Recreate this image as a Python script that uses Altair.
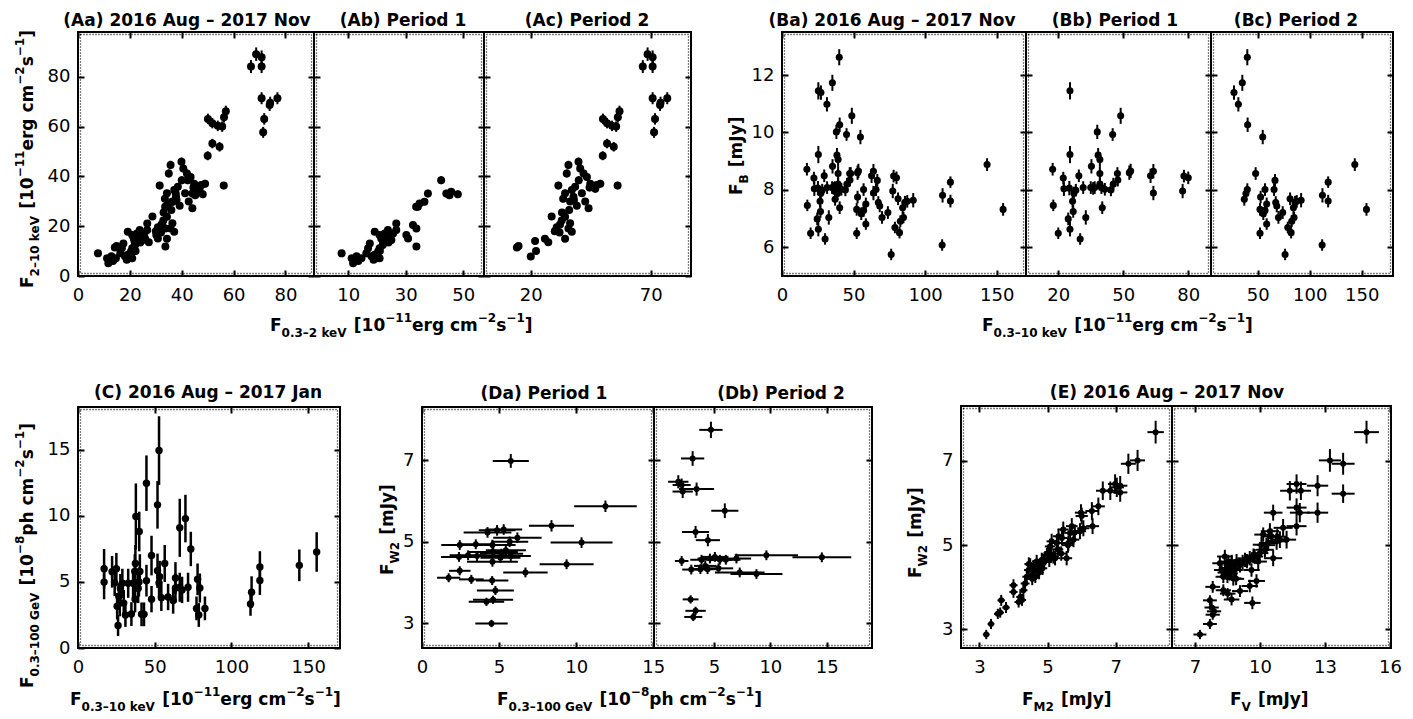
import altair as alt
import pandas as pd

W, H = 1413, 719
TK = 6

# ---------------- data ----------------
# (A) Period 1 : F0.3-2 keV vs F2-10 keV
A1_x = [7.7, 11.2, 11.7, 12.9, 14.6, 16.3, 16.9, 17.5, 18.1, 19.2,
        19.8, 20.4, 20.9, 20.9, 19.2, 20.9, 21.5, 22.1, 22.7, 23.3,
        23.8, 24.4, 25.0, 25.6, 26.7, 26.7, 30.2, 30.8, 32.5, 33.7,
        33.7, 34.2, 34.8, 36.5, 37.7, 42.3, 44.1, 45.8, 48.1, 45.2,
        33.6, 22.0, 24.0, 21.0, 13.5, 18.8]
A1_y = [9.1, 7.1, 5.1, 7.9, 7.1, 9.1, 11.1, 13.1, 7.9, 8.5,
        7.1, 9.8, 7.1, 11.1, 17.8, 16.5, 15.1, 13.1, 17.1, 14.5,
        18.5, 15.8, 14.5, 17.1, 18.5, 21.1, 16.5, 15.1, 20.5, 11.8,
        19.1, 27.8, 29.1, 29.8, 33.1, 38.5, 33.1, 33.8, 32.8, 32.4,
        27.8, 12.5, 13.5, 10.0, 6.0, 6.5]
A1_ey = [0.9, 0.8, 0.8, 0.9, 0.8, 0.9, 1.0, 1.0, 0.9, 0.9,
         0.8, 1.0, 0.9, 1.0, 1.1, 1.1, 1.0, 1.0, 1.1, 1.0,
         1.1, 1.1, 1.0, 1.1, 1.1, 1.2, 1.1, 1.0, 1.2, 1.0,
         1.2, 1.4, 1.4, 1.4, 1.5, 1.6, 1.5, 1.5, 1.5, 1.5,
         1.4, 1.0, 1.0, 0.9, 0.8, 0.8]
# (A) Period 2
A2_x = [14.2, 14.9, 20.0, 22.2, 21.8, 25.9, 27.3, 28.7, 30.8, 32.2,
        32.9, 34.3, 34.3, 35.7, 36.4, 37.1, 31.5, 34.3, 35.0, 35.7,
        36.4, 37.1, 37.8, 38.5, 39.2, 39.9, 40.6, 41.3, 42.0, 42.7,
        43.4, 44.1, 44.8, 46.9, 49.0, 50.0, 51.8, 54.6, 56.2, 50.1,
        51.8, 53.9, 55.6, 56.3, 57.0, 66.7, 68.7, 70.8, 70.8, 70.8,
        73.9, 74.1, 76.9, 71.8, 71.4, 33.5, 36.0, 38.0, 40.0, 33.0,
        30.0, 32.0, 44.5, 47.5]
A2_y = [11.4, 12.0, 7.8, 10.0, 14.1, 15.0, 13.6, 23.9, 19.6, 20.7,
        22.3, 15.0, 23.8, 19.1, 21.2, 17.8, 36.3, 33.2, 41.2, 44.6,
        29.9, 34.5, 31.8, 35.8, 28.2, 45.9, 43.2, 33.2, 41.2, 29.9,
        39.8, 27.2, 37.1, 35.0, 37.1, 48.3, 53.2, 51.9, 36.3, 63.1,
        61.4, 60.3, 60.0, 63.8, 66.2, 84.1, 89.1, 87.9, 84.1, 71.4,
        68.7, 69.6, 71.4, 63.1, 57.7, 31.0, 26.5, 30.5, 38.5, 25.5,
        18.0, 17.5, 35.5, 36.5]
A2_ey = [0.9, 0.9, 0.8, 0.9, 1.0, 1.0, 1.0, 1.2, 1.1, 1.1,
         1.2, 1.0, 1.2, 1.1, 1.2, 1.1, 1.5, 1.4, 1.6, 1.7,
         1.4, 1.5, 1.4, 1.5, 1.3, 1.7, 1.6, 1.4, 1.6, 1.4,
         1.6, 1.3, 1.5, 1.5, 1.5, 1.8, 1.9, 1.9, 1.5, 2.1,
         2.1, 2.1, 2.1, 2.2, 2.2, 2.6, 2.7, 2.7, 2.6, 2.4,
         2.4, 2.4, 2.4, 2.3, 2.2, 1.4, 1.3, 1.4, 1.6, 1.3,
         1.1, 1.1, 1.5, 1.5]

# (B) Period 1 : F0.3-10 keV vs F_B
B1_x = [17.4, 17.7, 20.0, 22.3, 22.6, 24.6, 25.1, 25.4, 25.4, 25.4,
        26.6, 27.2, 26.9, 28.1, 29.5, 30.1, 31.5, 32.7, 35.3, 35.0,
        36.1, 36.8, 38.0, 38.4, 39.2, 39.2, 39.2, 39.9, 40.3, 41.5,
        44.3, 45.1, 45.4, 47.3, 47.5, 48.8, 52.8, 53.4, 62.6, 63.9,
        63.9, 77.4, 78.0, 80.0]
B1_y = [8.72, 7.46, 6.49, 8.41, 8.04, 6.99, 8.06, 11.45, 9.23, 6.63,
        7.60, 7.89, 7.25, 7.99, 8.49, 6.29, 8.08, 7.04, 8.82, 8.08,
        8.05, 8.08, 10.02, 9.21, 9.06, 8.57, 8.20, 8.08, 7.38, 8.02,
        8.00, 9.93, 8.20, 8.57, 8.34, 10.58, 8.60, 8.66, 8.49, 8.65,
        7.89, 7.96, 8.48, 8.42]
B1_ey = [0.22, 0.20, 0.20, 0.22, 0.25, 0.22, 0.25, 0.30, 0.30, 0.25,
         0.22, 0.22, 0.22, 0.22, 0.22, 0.20, 0.22, 0.25, 0.25, 0.22,
         0.22, 0.22, 0.25, 0.25, 0.25, 0.25, 0.22, 0.22, 0.22, 0.22,
         0.22, 0.22, 0.22, 0.22, 0.22, 0.28, 0.25, 0.25, 0.25, 0.25,
         0.25, 0.25, 0.22, 0.22]
# (B) Period 2
B2_x = [40.0, 35.2, 27.2, 31.4, 40.3, 54.8, 48.0, 37.1, 38.7, 40.0,
        52.8, 57.0, 52.2, 55.4, 57.0, 58.6, 58.6, 52.2, 66.6, 65.7,
        67.3, 68.3, 69.9, 74.0, 78.9, 81.1, 82.1, 82.7, 84.3, 84.9,
        85.9, 87.5, 91.7, 76.3, 112.2, 111.9, 117.7, 117.7, 143.3, 154.5]
B2_y = [12.62, 11.73, 11.39, 10.98, 10.27, 9.84, 8.57, 7.67, 7.87, 8.01,
        7.75, 8.01, 7.32, 7.17, 7.28, 7.51, 6.81, 6.49, 8.33, 8.01,
        7.56, 7.44, 7.04, 7.21, 6.69, 7.69, 6.51, 6.91, 7.38, 7.04,
        7.57, 7.60, 7.64, 5.75, 7.81, 6.08, 7.61, 8.27, 8.88, 7.32]
B2_ey = [0.28, 0.28, 0.25, 0.25, 0.25, 0.25, 0.22, 0.22, 0.22, 0.22,
         0.22, 0.22, 0.22, 0.22, 0.22, 0.22, 0.20, 0.20, 0.22, 0.22,
         0.22, 0.22, 0.22, 0.22, 0.20, 0.22, 0.20, 0.20, 0.22, 0.20,
         0.22, 0.22, 0.25, 0.20, 0.25, 0.20, 0.22, 0.20, 0.22, 0.22]

# (C) F0.3-10 keV vs F0.3-100 GeV
C_x = [17.0, 17.0, 22.2, 23.9, 25.0, 25.5, 26.1, 26.6, 27.2, 27.6,
       28.9, 29.8, 30.9, 32.7, 34.8, 35.9, 37.0, 37.4, 37.2, 37.7,
       39.9, 40.3, 39.7, 39.2, 41.4, 43.0, 44.6, 44.6, 47.9, 47.9,
       51.8, 51.8, 52.8, 52.8, 53.2, 54.3, 56.5, 58.7, 62.0, 63.5,
       63.5, 66.3, 66.3, 67.8, 70.0, 71.7, 73.5, 77.2, 77.9, 78.7,
       79.4, 82.7, 112.4, 113.1, 118.5, 118.5, 144.2, 155.5]
C_y = [6.00, 4.99, 5.77, 4.93, 6.00, 3.16, 1.71, 3.90, 3.40, 4.50,
       4.90, 3.40, 2.50, 4.90, 2.57, 4.90, 5.80, 6.40, 3.70, 9.96,
       8.82, 5.80, 5.00, 4.50, 2.55, 2.55, 12.48, 5.10, 7.00, 3.70,
       5.85, 10.84, 14.95, 4.93, 5.40, 3.80, 6.40, 3.86, 3.60, 5.30,
       4.54, 9.10, 4.60, 4.40, 9.80, 4.60, 7.50, 3.00, 5.20, 2.50,
       4.54, 3.00, 3.34, 4.23, 5.12, 6.13, 6.26, 7.27]
C_ey = [1.5, 1.3, 1.2, 1.0, 1.2, 1.0, 0.8, 1.0, 1.0, 1.1,
        1.1, 1.0, 0.9, 1.1, 0.9, 1.1, 1.3, 1.4, 1.0, 2.5,
        1.5, 1.3, 1.1, 1.1, 0.9, 0.9, 2.1, 1.2, 1.5, 1.0,
        1.3, 1.8, 2.6, 1.1, 1.2, 1.0, 1.4, 1.0, 1.0, 1.2,
        1.1, 2.2, 1.1, 1.0, 1.8, 1.1, 1.3, 0.9, 1.2, 0.9,
        1.1, 0.9, 0.9, 1.2, 1.1, 1.2, 1.2, 1.5]

# (D) Period 1 : F0.3-100 GeV vs F_W2
D1_x = [5.76, 11.9, 8.40, 10.35, 9.38, 6.71, 4.25, 4.87, 5.30, 6.19,
        5.69, 4.57, 3.49, 2.45, 2.40, 2.99, 3.57, 4.62, 5.16, 5.44,
        5.76, 4.57, 5.09, 2.45, 1.73, 3.20, 4.55, 4.76, 4.61, 4.18,
        4.51]
D1_y = [6.98, 5.87, 5.39, 4.98, 4.45, 4.25, 5.23, 5.28, 5.30, 5.10,
        5.00, 4.92, 4.94, 4.92, 4.63, 4.67, 4.65, 4.75, 4.71, 4.79,
        4.65, 4.51, 4.61, 4.29, 4.12, 4.08, 4.05, 3.81, 3.58, 3.53,
        3.00]
D1_ex = [1.17, 2.03, 1.46, 2.01, 1.75, 1.44, 1.55, 1.19, 1.20, 1.57,
         1.20, 1.50, 1.17, 1.20, 1.16, 1.20, 1.30, 1.60, 1.40, 1.30,
         1.30, 1.65, 1.30, 0.70, 0.75, 0.80, 1.05, 1.20, 1.30, 1.15,
         1.05]
D1_ey = [0.17, 0.14, 0.14, 0.13, 0.12, 0.12, 0.13, 0.13, 0.13, 0.13,
         0.13, 0.13, 0.12, 0.12, 0.12, 0.12, 0.12, 0.12, 0.12, 0.12,
         0.12, 0.12, 0.12, 0.11, 0.11, 0.11, 0.11, 0.11, 0.10, 0.10,
         0.09]
# (D) Period 2
D2_x = [4.74, 3.12, 1.85, 2.15, 2.24, 3.47, 5.97, 3.38, 4.47, 2.15,
        3.91, 4.65, 5.09, 5.53, 6.06, 7.00, 9.65, 14.56, 4.24, 3.81,
        3.00, 4.44, 5.41, 7.29, 8.77, 2.94, 3.38, 3.18]
D2_y = [7.74, 7.04, 6.47, 6.39, 6.23, 6.29, 5.76, 5.24, 5.04, 4.53,
        4.56, 4.59, 4.63, 4.56, 4.56, 4.59, 4.67, 4.62, 4.41, 4.33,
        4.32, 4.33, 4.35, 4.25, 4.21, 3.59, 3.31, 3.16]
D2_ex = [1.03, 1.03, 0.90, 0.80, 0.90, 1.55, 1.20, 1.20, 1.07, 0.60,
         1.00, 1.10, 1.20, 1.10, 1.30, 1.30, 2.80, 2.60, 1.00, 1.00,
         0.80, 1.10, 1.30, 2.20, 2.30, 0.70, 0.90, 0.80]
D2_ey = [0.20, 0.18, 0.16, 0.16, 0.16, 0.16, 0.18, 0.15, 0.15, 0.12,
         0.12, 0.12, 0.12, 0.12, 0.12, 0.12, 0.12, 0.12, 0.12, 0.12,
         0.12, 0.12, 0.12, 0.12, 0.12, 0.10, 0.10, 0.10]

# (E) F_M2 vs F_W2
E1_x = [3.20, 3.34, 3.54, 3.64, 3.61, 3.78, 4.00, 4.00, 4.15, 4.20,
        4.29, 4.34, 4.39, 4.44, 4.49, 4.59, 4.54, 4.64, 4.68, 4.73,
        4.78, 4.83, 4.93, 4.98, 5.03, 5.07, 5.12, 5.17, 5.22, 5.27,
        5.32, 5.42, 5.46, 5.56, 5.61, 5.66, 5.71, 5.76, 5.95, 5.98,
        6.00, 6.30, 6.32, 6.49, 6.62, 6.84, 6.98, 7.03, 7.13, 7.13,
        7.37, 7.64, 8.17, 4.45, 4.60, 4.70, 4.90, 5.10, 5.30, 5.05,
        4.55, 4.25, 5.40, 5.60, 5.80, 6.05, 4.75, 4.85]
E1_y = [2.88, 3.13, 3.37, 3.69, 3.40, 3.52, 4.05, 3.89, 3.65, 3.77,
        3.93, 4.09, 4.25, 4.41, 4.53, 4.49, 4.29, 4.25, 4.61, 4.41,
        4.53, 4.65, 4.69, 4.77, 4.81, 4.97, 5.09, 4.73, 4.69, 5.05,
        5.21, 5.17, 5.37, 4.69, 5.05, 5.29, 5.45, 5.13, 5.33, 5.77,
        5.69, 5.81, 5.45, 5.92, 6.29, 6.29, 6.45, 6.37, 6.41, 6.25,
        6.93, 7.01, 7.68, 4.55, 4.40, 4.50, 4.60, 4.75, 4.90, 4.65,
        4.20, 3.70, 4.80, 5.00, 5.30, 5.40, 4.35, 4.45]
E1_ex = [0.10, 0.10, 0.11, 0.11, 0.11, 0.11, 0.12, 0.12, 0.12, 0.12,
         0.12, 0.13, 0.13, 0.13, 0.13, 0.13, 0.13, 0.13, 0.14, 0.14,
         0.14, 0.14, 0.14, 0.15, 0.15, 0.15, 0.15, 0.15, 0.15, 0.16,
         0.16, 0.16, 0.16, 0.16, 0.17, 0.17, 0.17, 0.17, 0.18, 0.18,
         0.18, 0.19, 0.19, 0.19, 0.20, 0.20, 0.21, 0.21, 0.21, 0.21,
         0.22, 0.22, 0.24, 0.13, 0.14, 0.14, 0.15, 0.15, 0.16, 0.15,
         0.13, 0.12, 0.16, 0.17, 0.18, 0.18, 0.14, 0.14]
E1_ey = [0.11, 0.12, 0.12, 0.13, 0.12, 0.13, 0.14, 0.14, 0.13, 0.14,
         0.14, 0.15, 0.15, 0.16, 0.16, 0.16, 0.15, 0.15, 0.16, 0.16,
         0.16, 0.17, 0.17, 0.17, 0.17, 0.18, 0.18, 0.17, 0.17, 0.18,
         0.18, 0.18, 0.19, 0.17, 0.18, 0.19, 0.19, 0.18, 0.19, 0.20,
         0.20, 0.21, 0.19, 0.21, 0.22, 0.22, 0.23, 0.23, 0.23, 0.22,
         0.24, 0.25, 0.27, 0.16, 0.16, 0.16, 0.17, 0.17, 0.18, 0.17,
         0.15, 0.14, 0.17, 0.18, 0.19, 0.19, 0.16, 0.16]
# (E) F_V vs F_W2
E2_x = [7.23, 7.69, 7.82, 7.88, 7.69, 7.77, 7.82, 8.31, 8.51, 8.69,
        9.08, 9.65, 9.53, 9.84, 9.61, 8.15, 8.23, 8.31, 8.38, 8.46,
        8.54, 8.61, 8.69, 8.77, 8.84, 8.92, 9.08, 9.31, 9.53, 9.76,
        9.92, 9.99, 10.07, 10.15, 10.23, 10.38, 10.46, 10.53, 10.61, 10.77,
        10.92, 11.07, 10.61, 11.23, 11.69, 11.69, 11.84, 11.38, 11.69, 11.89,
        12.66, 12.66, 13.23, 13.84, 13.84, 14.92, 8.60, 8.80, 9.00, 9.20,
        9.40, 8.40, 8.70, 9.70, 10.30, 10.80, 8.90, 8.50]
E2_y = [2.88, 3.13, 3.35, 3.43, 3.69, 3.52, 4.01, 3.93, 3.85, 3.71,
        3.91, 3.63, 4.03, 4.15, 4.41, 4.57, 4.41, 4.25, 4.73, 4.45,
        4.61, 4.33, 4.53, 4.21, 4.41, 4.61, 4.53, 4.65, 4.69, 4.73,
        4.61, 4.81, 5.01, 5.25, 4.89, 5.05, 5.33, 5.21, 4.69, 5.09,
        5.13, 5.41, 5.77, 5.13, 5.45, 5.89, 5.77, 6.29, 6.45, 6.29,
        5.77, 6.41, 7.01, 6.93, 6.22, 7.68, 4.45, 4.50, 4.55, 4.60,
        4.62, 4.35, 4.60, 4.75, 5.00, 5.20, 4.20, 4.25]
E2_ex = [0.30, 0.32, 0.33, 0.33, 0.32, 0.33, 0.34, 0.35, 0.36, 0.36,
         0.37, 0.38, 0.38, 0.39, 0.38, 0.35, 0.35, 0.36, 0.36, 0.36,
         0.36, 0.37, 0.37, 0.37, 0.37, 0.37, 0.38, 0.38, 0.39, 0.39,
         0.40, 0.40, 0.40, 0.41, 0.41, 0.41, 0.42, 0.42, 0.42, 0.43,
         0.43, 0.44, 0.43, 0.44, 0.46, 0.46, 0.46, 0.45, 0.46, 0.47,
         0.49, 0.49, 0.51, 0.53, 0.53, 0.57, 0.36, 0.37, 0.37, 0.38,
         0.38, 0.36, 0.37, 0.39, 0.41, 0.43, 0.37, 0.36]
E2_ey = [0.11, 0.12, 0.12, 0.13, 0.12, 0.13, 0.14, 0.14, 0.13, 0.14,
         0.14, 0.15, 0.15, 0.16, 0.16, 0.16, 0.15, 0.15, 0.16, 0.16,
         0.16, 0.17, 0.17, 0.17, 0.17, 0.18, 0.18, 0.17, 0.17, 0.18,
         0.18, 0.18, 0.19, 0.17, 0.18, 0.19, 0.19, 0.18, 0.19, 0.20,
         0.20, 0.21, 0.19, 0.21, 0.22, 0.22, 0.23, 0.23, 0.23, 0.22,
         0.24, 0.25, 0.27, 0.26, 0.22, 0.27, 0.16, 0.16, 0.16, 0.17,
         0.17, 0.16, 0.17, 0.17, 0.18, 0.18, 0.15, 0.15]

# ---------------- helpers ----------------
CW = {' ': .348, '(': .458, ')': .458, '[': .458, ']': .458, '.': .380, '-': .415,
      '\u2212': .838, '\u2013': .500, 'A': .774, 'B': .762, 'F': .683, 'G': .821,
      'J': .372, 'M': .995, 'N': .837, 'V': .774, 'W': 1.102, 'a': .675, 'c': .593,
      'e': .678, 'g': .716, 'h': .712, 'k': .665, 'm': 1.042, 'o': .687, 'p': .716,
      'r': .493, 's': .595, 'u': .712, 'v': .652, 'y': .652}
for d in '0123456789':
    CW[d] = .696


def tw(s, fs):
    return sum(CW.get(c, .65) for c in s) * fs


def sc(dom, rng):
    return alt.Scale(domain=dom, range=rng, nice=False, zero=False)


def ax(orient, offset, values, labels):
    pad = 10 if orient in ('bottom', 'top') else 8
    return alt.Axis(orient=orient, offset=offset, values=values, labels=labels, title=None,
                    grid=False, domain=False, ticks=True, tickSize=TK, tickWidth=2,
                    tickColor='black', labelFont='DejaVu Sans', labelFontSize=18,
                    labelColor='black', labelFlush=False, labelOverlap=False,
                    labelPadding=pad)


def panel(xs, ys, box, xdom, ydom, xt, yt, xlab=True, ylab=True, ey=None, ex=None,
          size=60, ew=2.0):
    x0, x1, y0, y1 = box
    xr, yr = [x0, x1], [y1, y0]
    out = []
    fr = pd.DataFrame({'a': [xdom[0]], 'b': [xdom[1]], 'c': [ydom[0]], 'd': [ydom[1]]})
    out.append(alt.Chart(fr).mark_point(opacity=0).encode(
        x=alt.X('a:Q', scale=sc(xdom, xr), axis=ax('bottom', y1 - TK - H, xt, xlab)),
        y=alt.Y('c:Q', scale=sc(ydom, yr), axis=ax('left', -(x0 + TK), yt, ylab))))
    out.append(alt.Chart(fr).mark_point(opacity=0).encode(
        x=alt.X('a:Q', scale=sc(xdom, xr), axis=ax('top', -(y0 + TK), xt, False)),
        y=alt.Y('c:Q', scale=sc(ydom, yr), axis=ax('right', x1 - TK - W, yt, False))))
    # dotted inner border (minor ticks look)
    out.append(alt.Chart(fr).mark_rect(
        fillOpacity=0, stroke='black', strokeWidth=1.3, strokeDash=[1, 2],
        xOffset=2.5, x2Offset=-2.5, yOffset=-2.5, y2Offset=2.5).encode(
        x=alt.X('a:Q', scale=sc(xdom, xr), axis=None), x2='b:Q',
        y=alt.Y('c:Q', scale=sc(ydom, yr), axis=None), y2='d:Q'))
    out.append(alt.Chart(fr).mark_rect(fillOpacity=0, stroke='black', strokeWidth=2).encode(
        x=alt.X('a:Q', scale=sc(xdom, xr), axis=None), x2='b:Q',
        y=alt.Y('c:Q', scale=sc(ydom, yr), axis=None), y2='d:Q'))
    df = pd.DataFrame({'x': xs, 'y': ys})
    if ey is not None:
        df['ylo'] = df['y'] - pd.Series(ey)
        df['yhi'] = df['y'] + pd.Series(ey)
        out.append(alt.Chart(df).mark_rule(color='black', strokeWidth=ew).encode(
            x=alt.X('x:Q', scale=sc(xdom, xr), axis=None),
            y=alt.Y('ylo:Q', scale=sc(ydom, yr), axis=None), y2='yhi:Q'))
    if ex is not None:
        df['xlo'] = df['x'] - pd.Series(ex)
        df['xhi'] = df['x'] + pd.Series(ex)
        out.append(alt.Chart(df).mark_rule(color='black', strokeWidth=ew).encode(
            x=alt.X('xlo:Q', scale=sc(xdom, xr), axis=None), x2='xhi:Q',
            y=alt.Y('y:Q', scale=sc(ydom, yr), axis=None)))
    out.append(alt.Chart(df).mark_circle(color='black', opacity=1, size=size).encode(
        x=alt.X('x:Q', scale=sc(xdom, xr), axis=None),
        y=alt.Y('y:Q', scale=sc(ydom, yr), axis=None)))
    return out


layers = []
# top row: A
yA = [0, 98]
layers += panel(A1_x + A2_x, A1_y + A2_y, (78, 314, 32, 276), [0, 91], yA,
                [0, 20, 40, 60, 80], [0, 20, 40, 60, 80], ey=A1_ey + A2_ey, size=64)
layers += panel(A1_x, A1_y, (314, 484, 32, 276), [-1.9, 57.2], yA,
                [10, 30, 50], [0, 20, 40, 60, 80], ylab=False, ey=A1_ey, size=64)
layers += panel(A2_x, A2_y, (484, 691, 32, 276), [0.5, 86.8], yA,
                [20, 70], [0, 20, 40, 60, 80], ylab=False, ey=A2_ey, size=64)
# top row: B
yB = [5, 13.5]
layers += panel(B1_x + B2_x, B1_y + B2_y, (782, 1026, 32, 276), [0, 170.5], yB,
                [0, 50, 100, 150], [6, 8, 10, 12], ey=B1_ey + B2_ey, size=50)
layers += panel(B1_x, B1_y, (1026, 1211, 32, 276), [5.1, 90.5], yB,
                [20, 50, 80], [6, 8, 10, 12], ylab=False, ey=B1_ey, size=50)
layers += panel(B2_x, B2_y, (1211, 1393, 32, 276), [5.1, 180], yB,
                [50, 100, 150], [6, 8, 10, 12], ylab=False, ey=B2_ey, size=50)
# bottom row: C
layers += panel(C_x, C_y, (78, 340, 407, 648), [0, 170.7], [0, 18.25],
                [0, 50, 100, 150], [0, 5, 10, 15], ey=C_ey, size=55, ew=2.5)
# bottom row: D
yD = [2.4, 8.3]
layers += panel(D1_x, D1_y, (422, 654, 407, 648), [0, 15.05], yD,
                [0, 5, 10, 15], [3, 5, 7], ey=D1_ey, ex=D1_ex, size=36)
layers += panel(D2_x, D2_y, (654, 872, 407, 648), [-0.3, 19], yD,
                [5, 10, 15], [3, 5, 7], ylab=False, ey=D2_ey, ex=D2_ex, size=36)
# bottom row: E
yE = [2.56, 8.3]
layers += panel(E1_x, E1_y, (961, 1172, 406, 648), [2.46, 8.65], yE,
                [3, 5, 7], [3, 5, 7], ey=E1_ey, ex=E1_ex, size=36)
layers += panel(E2_x, E2_y, (1172, 1391, 406, 648), [5.94, 16.05], yE,
                [7, 10, 13, 16], [3, 5, 7], ylab=False, ey=E2_ey, ex=E2_ex, size=36)

# ---------------- texts ----------------
BIG, SM, SUB, SUP, GAP = 17, 12, 6, -9, 7
rows = []


def rich(parts, x, y, rot=False):
    adv = 0.0
    for p in parts:
        if isinstance(p, (int, float)):
            adv += p
            continue
        t, fs, sh = p
        if rot:
            rows.append(dict(t=t, px=x + sh, py=y - adv, fs=fs, ang=270))
        else:
            rows.append(dict(t=t, px=x + adv, py=y + sh, fs=fs, ang=0))
        adv += tw(t, fs)


def unit(exp, kind):
    return [('[10', BIG, 0), (exp, SM, SUP), (kind + ' cm', BIG, 0), ('\u22122', SM, SUP),
            ('s', BIG, 0), ('\u22121', SM, SUP), (']', BIG, 0)]


def fsub(sub):
    return [('F', BIG, 0), (sub, SM, SUB), GAP]


rich(fsub('0.3\u20132 keV') + unit('\u221211', 'erg'), 270, 331)
rich(fsub('0.3\u201310 keV') + unit('\u221211', 'erg'), 982, 331)
rich(fsub('0.3\u201310 keV') + unit('\u221211', 'erg'), 70, 705)
rich(fsub('0.3\u2013100 GeV') + unit('\u22128', 'ph'), 497, 705)
rich(fsub('M2') + [('[mJy]', BIG, 0)], 1022, 705)
rich(fsub('V') + [('[mJy]', BIG, 0)], 1230, 705)
rich(fsub('2\u201310 keV') + unit('\u221211', 'erg'), 33, 288, rot=True)
rich(fsub('B') + [('[mJy]', BIG, 0)], 742, 195, rot=True)
rich(fsub('0.3\u2013100 GeV') + unit('\u22128', 'ph'), 33, 688, rot=True)
rich(fsub('W2') + [('[mJy]', BIG, 0)], 393, 575, rot=True)
rich(fsub('W2') + [('[mJy]', BIG, 0)], 921, 578, rot=True)

rich_df = pd.DataFrame(rows)
layers.append(alt.Chart(rich_df).mark_text(
    align='left', baseline='alphabetic', font='DejaVu Sans', fontWeight='bold',
    color='black').encode(
    x=alt.X('px:Q', scale=None), y=alt.Y('py:Q', scale=None), text='t:N',
    size=alt.Size('fs:Q', scale=None), angle=alt.Angle('ang:Q', scale=None)))

title_text = ['(Aa) 2016 Aug \u2013 2017 Nov', '(Ab) Period 1', '(Ac) Period 2',
              '(Ba) 2016 Aug \u2013 2017 Nov', '(Bb) Period 1', '(Bc) Period 2',
              '(C) 2016 Aug \u2013 2017 Jan', '(Da) Period 1', '(Db) Period 2',
              '(E) 2016 Aug \u2013 2017 Nov']
title_px = [187, 403, 587, 892, 1115, 1296, 208, 544, 781, 1167]
title_py = [26, 26, 26, 26, 26, 26, 398, 399, 399, 398]
tdf = pd.DataFrame({'t': title_text, 'px': title_px, 'py': title_py})
layers.append(alt.Chart(tdf).mark_text(
    align='center', baseline='alphabetic', font='DejaVu Sans', fontWeight='bold',
    fontSize=BIG, color='black').encode(
    x=alt.X('px:Q', scale=None), y=alt.Y('py:Q', scale=None), text='t:N'))

chart = alt.layer(*layers).resolve_scale(
    x='independent', y='independent').resolve_axis(
    x='independent', y='independent').properties(
    width=W, height=H, autosize=alt.AutoSizeParams(type='none'), padding=0,
    background='white').configure_view(stroke=None)

chart.save("out.html", embed_options={"renderer": "svg", "actions": False})
